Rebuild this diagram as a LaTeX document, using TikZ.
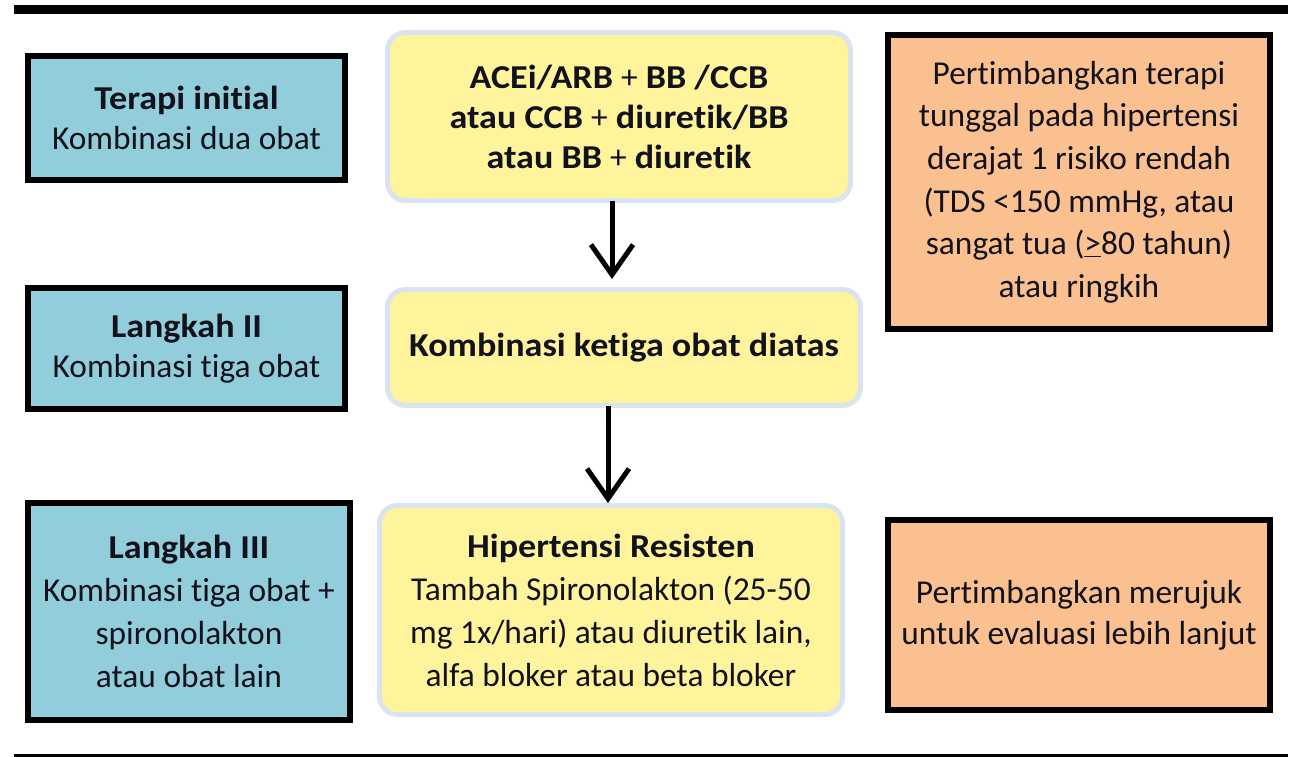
\documentclass[tikz,border=0pt]{standalone}
\usepackage{fontspec}
\setmainfont{Carlito}[Ligatures=NoCommon, BoldFeatures={FakeStretch=1.08}]
\usetikzlibrary{arrows.meta}

\definecolor{stepblue}{RGB}{146,205,220}
\definecolor{noteorange}{RGB}{250,192,144}
\definecolor{drugyellow}{RGB}{255,244,156}
\definecolor{drugedge}{RGB}{218,228,240}
\definecolor{ink}{RGB}{18,18,28}

% plus sign kept at regular weight inside bold lines
\newcommand{\pl}{\textmd{+}}

\begin{document}
\begin{tikzpicture}[x=1pt,y=-1pt,
  every node/.style={text=ink},
  stepbox/.style={draw=black, line width=6pt, fill=stepblue, align=center, inner sep=0pt},
  drugbox/.style={draw=drugedge, line width=5pt, fill=drugyellow, rounded corners=18pt, align=center, inner sep=0pt},
  notebox/.style={draw=black, line width=6pt, fill=noteorange, align=center, inner sep=0pt},
  flow/.style={line width=5pt, -{Straight Barb[length=30pt,width=42pt]}},
  rule/.style={line width=9pt},
  txt/.style={font=\fontsize{33.4}{#1}\selectfont},
  txt/.default=40]

\useasboundingbox (0,0) rectangle (1294,757);

% horizontal rules framing the chart
\draw[rule] (14,9.5) -- (1288,9.5);
\draw[rule] (14,758) -- (1288,758);

% left column: treatment steps
\node[stepbox, txt, minimum width=317pt, minimum height=124pt] (s1) at (186.5,118)
  {\textbf{Terapi initial}\\Kombinasi dua obat};
\node[stepbox, txt, minimum width=317pt, minimum height=121pt] (s2) at (186.5,348.5)
  {\textbf{Langkah II}\\Kombinasi tiga obat};
\node[stepbox, txt=43, minimum width=322pt, minimum height=217pt] (s3) at (189,611.5)
  {\textbf{Langkah III}\\Kombinasi tiga obat +\\spironolakton\\atau obat lain};

% middle column: drug combinations
\node[drugbox, txt, minimum width=463pt, minimum height=168pt] (d1) at (619,116.5)
  {\textbf{ACEi/ARB \pl\ BB /CCB}\\\textbf{atau CCB \pl\ diuretik/BB}\\\textbf{atau BB \pl\ diuretik}};
\node[drugbox, txt, minimum width=473pt, minimum height=116pt] (d2) at (624,347.5)
  {\textbf{Kombinasi ketiga obat diatas}};
\node[drugbox, txt=43, minimum width=463pt, minimum height=209pt] (d3) at (611,610)
  {\textbf{Hipertensi Resisten}\\Tambah Spironolakton (25-50\\mg 1x/hari) atau diuretik lain,\\alfa bloker atau beta bloker};

% right column: considerations
\node[notebox, txt=42.6, minimum width=382pt, minimum height=294pt] (n1) at (1079,182)
  {Pertimbangkan terapi\\tunggal pada hipertensi\\derajat 1 risiko rendah\\(TDS <150 mmHg, atau\\sangat tua (\underline{>}80 tahun)\\atau ringkih};
\node[notebox, txt=41, minimum width=382pt, minimum height=190pt] (n2) at (1079,615)
  {Pertimbangkan merujuk\\untuk evaluasi lebih lanjut};

% escalation arrows
\coordinate (a1) at (612,0);
\coordinate (a2) at (608,0);
\draw[flow, shorten <=-2pt, shorten >=8pt] (d1.south -| a1) -- (d2.north -| a1);
\draw[flow, shorten <=-2pt, shorten >=0pt] (d2.south -| a2) -- (d3.north -| a2);
\end{tikzpicture}
\end{document}
